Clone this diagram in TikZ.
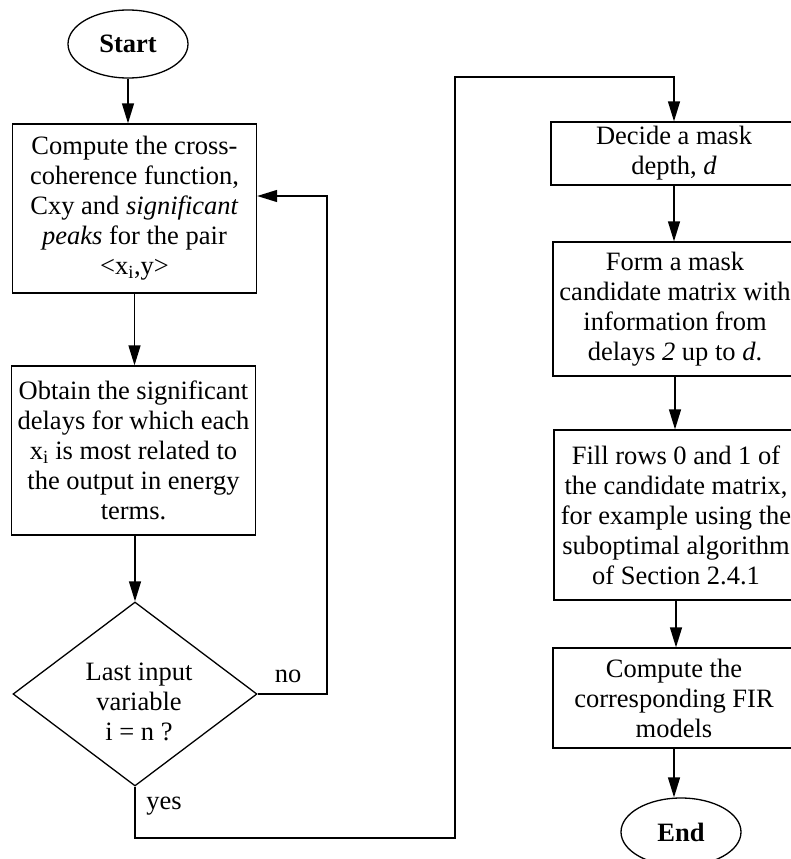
\documentclass[tikz,border=0pt]{standalone}
\usepackage{fontspec}
\setmainfont{Liberation Serif}
\usetikzlibrary{shapes.geometric,arrows.meta}
\begin{document}
\begin{tikzpicture}[x=1pt,y=-1pt,
  every node/.style={font=\fontsize{26.5}{30}\selectfont, align=center, inner sep=0pt},
  box/.style={draw, line width=1.3pt, minimum width=244pt},
  oval/.style={draw, ellipse, line width=1.3pt, minimum width=120pt, minimum height=68pt},
  dia/.style={draw, diamond, line width=1.3pt, minimum width=244pt, minimum height=184pt},
  conn/.style={line width=1.3pt},
  arr/.style={conn, -{Triangle[length=20pt,width=12pt]}},
  lbl/.style={font=\fontsize{26.5}{30}\selectfont}]
\useasboundingbox (0,0) rectangle (791,859);
\node[oval] (start) at (128,44) {\textbf{Start}};
\node[box, minimum height=169pt] (b1) at (134.5,208.5) {Compute the cross-\\coherence function,\\Cxy and \textit{significant}\\\textit{peaks} for the pair\\\textless x\textsubscript{i},y\textgreater};
\node[box, minimum height=169pt] (b2) at (133.5,450.5) {Obtain the significant\\delays for which each\\x\textsubscript{i} is most related to\\the output in energy\\terms.};
\node[dia] (d) at (135,694) {};
\node (dt) at (139,702) {Last input\\variable\\i = n ?};
\node[box, minimum width=246pt, minimum height=63pt] (b3) at (674,153.5) {Decide a mask\\depth, \textit{d}};
\node[box, minimum height=134pt] (b4) at (675,309) {Form a mask\\candidate matrix with\\information from\\delays \textit{2} up to \textit{d}.};
\node[box, minimum height=170pt] (b5) at (676,515) {Fill rows 0 and 1 of\\the candidate matrix,\\for example using the\\suboptimal algorithm\\of Section 2.4.1};
\node[box, minimum width=242pt, minimum height=100pt] (b6) at (674,698) {Compute the\\corresponding FIR\\models};
\node[oval] (end) at (681,832) {\textbf{End}};
\node[lbl] (no) at (288,676) {no};
\node[lbl] (yes) at (164,806) {yes};
\coordinate (n2) at (327,196);
\coordinate (y1) at (455,838);
\coordinate (y2) at (455,77);
\draw[arr] (start.south) -- (start.south |- b1.north);
\draw[arr] (b1.south) -- (b1.south |- b2.north);
\draw[arr] (b2.south -| d.north) -- (d.north);
\draw[arr] (d.east) -| (n2) -- (n2 -| b1.east);
\draw[arr] (d.south) |- (y1) -- (y2) -| (b3.north);
\draw[arr] (b3.south) -- (b3.south |- b4.north);
\draw[arr] (b4.south) -- (b4.south |- b5.north);
\draw[arr] (b5.south) -- (b5.south |- b6.north);
\draw[arr] (b6.south) -- (b6.south |- end.north);
\end{tikzpicture}
\end{document}
